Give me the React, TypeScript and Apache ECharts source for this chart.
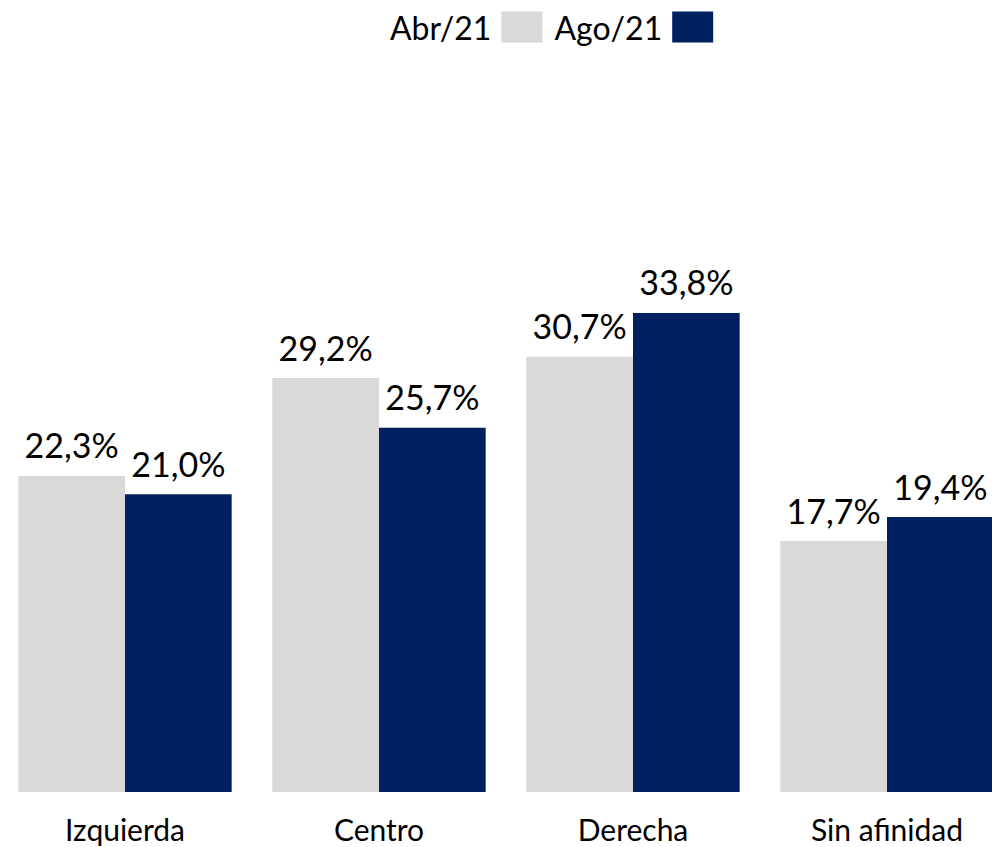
import React, { useEffect, useRef } from "react";
import * as echarts from "echarts";

const categories = ["Izquierda", "Centro", "Derecha", "Sin afinidad"];
const abr21 = [22.3, 29.2, 30.7, 17.7];
const ago21 = [21.0, 25.7, 33.8, 19.4];
const seriesNames = ["Abr/21", "Ago/21"];

const FONT = "Lato";

export default function App() {
  const ref = useRef<HTMLDivElement>(null);
  useEffect(() => {
    if (!ref.current) return;
    const chart = echarts.init(ref.current, undefined, { renderer: "svg" });
    const fmt = (p: any) => p.value.toFixed(1).replace(".", ",") + "%";
    chart.setOption({
      animation: false,
      textStyle: { fontFamily: FONT },
      legend: {
        top: 6,
        left: 387,
        align: "right",
        itemWidth: 41,
        itemHeight: 31,
        itemGap: 12,
        icon: "rect",
        textStyle: { fontFamily: FONT, fontSize: 32, color: "#000", padding: [0, 5, 0, 0] },
        data: seriesNames,
      },
      grid: { left: 0, right: 0, top: 225, bottom: 55 },
      xAxis: {
        type: "category",
        data: categories,
        axisLine: { show: false },
        axisTick: { show: false },
        axisLabel: { fontFamily: FONT, fontSize: 30, color: "#000", margin: 22 },
      },
      yAxis: {
        type: "value",
        min: 0,
        max: 40,
        show: false,
        splitLine: { show: false },
      },
      series: [
        {
          name: seriesNames[0],
          type: "bar",
          data: abr21,
          barGap: "0%",
          barCategoryGap: "16%",
          itemStyle: { color: "#D9D9D9" },
          label: { show: true, position: "top", distance: 14, formatter: fmt, fontFamily: FONT, fontSize: 34, color: "#000" },
        },
        {
          name: seriesNames[1],
          type: "bar",
          data: ago21,
          barGap: "0%",
          barCategoryGap: "16%",
          itemStyle: { color: "#002060" },
          label: { show: true, position: "top", distance: 14, formatter: fmt, fontFamily: FONT, fontSize: 34, color: "#000" },
        },
      ],
    });
    return () => chart.dispose();
  }, []);
  return (
    <div
      ref={ref}
      style={{ position: "fixed", left: -2, top: 0, width: 1016, height: 847, background: "#fff" }}
    />
  );
}
